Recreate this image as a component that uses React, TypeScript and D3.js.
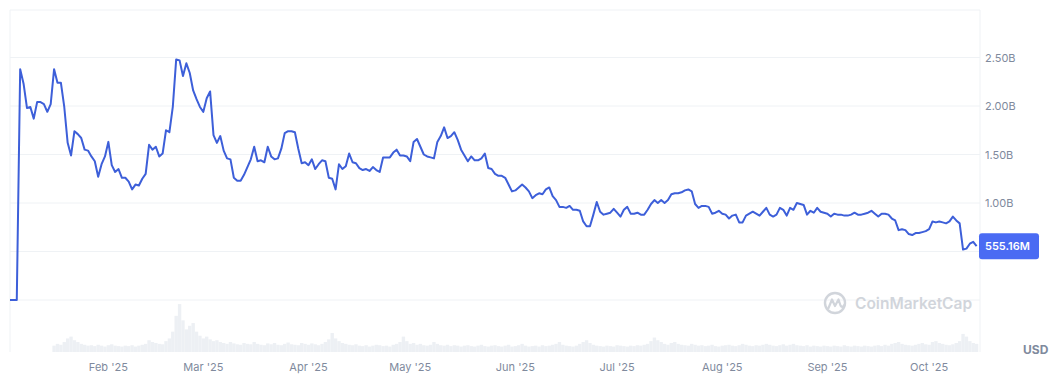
import React from "react";
import * as d3 from "d3";

// Market cap (USD billions), one value per day starting 2025-01-03
const startDate = "2025-01-03";
const endDate = "2025-10-16";
const marketCap: number[] = [
  0, 0, 0, 2.38, 2.23, 1.98, 1.99, 1.87, 2.04, 2.04,
  2.02, 1.94, 2.02, 2.38, 2.24, 2.24, 1.99, 1.62, 1.49, 1.74,
  1.71, 1.67, 1.55, 1.54, 1.48, 1.43, 1.27, 1.40, 1.48, 1.63,
  1.39, 1.32, 1.35, 1.26, 1.26, 1.22, 1.14, 1.19, 1.18, 1.25,
  1.30, 1.60, 1.55, 1.58, 1.48, 1.51, 1.75, 1.73, 1.99, 2.48,
  2.47, 2.31, 2.44, 2.34, 2.16, 2.07, 1.99, 1.94, 2.08, 2.15,
  1.70, 1.62, 1.69, 1.54, 1.46, 1.45, 1.26, 1.23, 1.23, 1.29,
  1.37, 1.45, 1.58, 1.43, 1.44, 1.42, 1.58, 1.48, 1.45, 1.46,
  1.56, 1.72, 1.74, 1.74, 1.73, 1.56, 1.41, 1.42, 1.39, 1.45,
  1.35, 1.40, 1.44, 1.43, 1.26, 1.25, 1.14, 1.40, 1.35, 1.38,
  1.51, 1.42, 1.41, 1.36, 1.34, 1.35, 1.33, 1.37, 1.34, 1.32,
  1.47, 1.47, 1.47, 1.52, 1.55, 1.49, 1.49, 1.48, 1.43, 1.63,
  1.66, 1.58, 1.50, 1.48, 1.47, 1.46, 1.63, 1.69, 1.78, 1.67,
  1.69, 1.73, 1.65, 1.55, 1.49, 1.43, 1.48, 1.44, 1.44, 1.46,
  1.51, 1.36, 1.35, 1.30, 1.28, 1.28, 1.26, 1.19, 1.12, 1.13,
  1.16, 1.19, 1.16, 1.12, 1.05, 1.08, 1.10, 1.09, 1.14, 1.16,
  1.07, 1.03, 0.96, 0.96, 0.95, 0.97, 0.93, 0.93, 0.92, 0.81,
  0.76, 0.76, 0.88, 1.01, 0.91, 0.88, 0.89, 0.90, 0.94, 0.90,
  0.86, 0.93, 0.96, 0.89, 0.89, 0.90, 0.88, 0.88, 0.93, 0.99,
  1.03, 1.00, 1.03, 1.00, 1.03, 1.09, 1.10, 1.10, 1.11, 1.13,
  1.14, 1.12, 0.99, 0.95, 0.97, 0.97, 0.96, 0.89, 0.90, 0.92,
  0.89, 0.88, 0.84, 0.87, 0.88, 0.80, 0.80, 0.87, 0.89, 0.91,
  0.89, 0.87, 0.91, 0.95, 0.88, 0.86, 0.88, 0.95, 0.93, 0.87,
  0.95, 0.93, 1.00, 0.99, 0.98, 0.88, 0.92, 0.90, 0.95, 0.91,
  0.90, 0.89, 0.86, 0.89, 0.88, 0.88, 0.87, 0.87, 0.88, 0.90,
  0.88, 0.88, 0.89, 0.90, 0.92, 0.89, 0.86, 0.89, 0.89, 0.88,
  0.84, 0.82, 0.72, 0.73, 0.72, 0.68, 0.67, 0.69, 0.69, 0.70,
  0.71, 0.73, 0.81, 0.80, 0.81, 0.80, 0.79, 0.81, 0.86, 0.82,
  0.79, 0.52, 0.53, 0.58, 0.60, 0.555,
];

// Daily volume (USD millions), starting 2025-01-16
const volumeStart = "2025-01-16";
const volume: number[] = [
  14, 18, 16, 22, 30, 34, 26, 22, 18, 16,
  14, 15, 13, 16, 14, 12, 15, 17, 14, 13,
  12, 14, 13, 15, 12, 14, 16, 18, 26, 22,
  20, 18, 17, 24, 30, 45, 80, 106, 70, 50,
  58, 64, 45, 36, 30, 34, 28, 24, 26, 22,
  20, 18, 22, 19, 17, 16, 20, 18, 17, 22,
  18, 16, 15, 19, 17, 20, 16, 15, 18, 21,
  17, 16, 15, 20, 18, 16, 19, 17, 15, 18,
  22, 28, 42, 30, 24, 20, 18, 16, 15, 17,
  14, 13, 15, 12, 14, 16, 15, 13, 14, 12,
  16, 18, 22, 34, 24, 18, 20, 16, 18, 15,
  14, 16, 22, 18, 15, 14, 16, 13, 15, 14,
  12, 14, 15, 13, 12, 14, 16, 13, 12, 14,
  15, 13, 12, 14, 16, 12, 13, 15, 18, 14,
  12, 13, 14, 12, 15, 13, 14, 16, 18, 22,
  16, 14, 13, 12, 14, 18, 22, 26, 20, 16,
  14, 13, 12, 14, 13, 12, 15, 14, 13, 12,
  14, 13, 15, 14, 16, 18, 24, 32, 26, 22,
  18, 16, 20, 22, 18, 16, 15, 14, 18, 16,
  14, 15, 13, 14, 16, 13, 12, 14, 15, 16,
  14, 13, 15, 18, 16, 14, 13, 15, 14, 16,
  18, 16, 14, 13, 15, 17, 14, 16, 18, 15,
  14, 13, 15, 12, 14, 13, 12, 14, 13, 12,
  14, 13, 12, 15, 13, 12, 14, 13, 12, 14,
  13, 12, 14, 15, 13, 16, 14, 18, 20, 22,
  18, 16, 15, 14, 16, 18, 20, 17, 16, 22,
  24, 20, 18, 16, 15, 17, 20, 24, 40, 34,
  24, 20, 18,
];

const yTicks = [1.0, 1.5, 2.0, 2.5];
const gridValues = [0, 0.5, 1.0, 1.5, 2.0, 2.5];
const monthTicks = [
  "2025-02-01", "2025-03-01", "2025-04-01", "2025-05-01", "2025-06-01",
  "2025-07-01", "2025-08-01", "2025-09-01", "2025-10-01",
];
const currentLabel = "555.16M";
const currency = "USD";
const watermark = "CoinMarketCap";

const W = 1059;
const H = 386;
const left = 10;
const right = 980;
const top = 10;
const mainBottom = 300;
const volBottom = 352;

const parse = d3.utcParse("%Y-%m-%d");
const DAY = 24 * 3600 * 1000;

export default function App() {
  const t0 = parse(startDate)!;
  const t1 = parse(endDate)!;
  const x = d3.scaleUtc().domain([t0, t1]).range([left, right]);
  const y = d3.scaleLinear().domain([0, 2.5]).range([mainBottom, 57.5]);
  const vy = d3.scaleLinear().domain([0, 115]).range([volBottom, 300]);

  const series = marketCap.map((v, i) => ({ date: new Date(t0.getTime() + i * DAY), v }));
  const vStart = parse(volumeStart)!;
  const vols = volume.map((v, i) => ({ date: new Date(vStart.getTime() + i * DAY), v }));

  const line = d3
    .line<{ date: Date; v: number }>()
    .x((d) => x(d.date))
    .y((d) => y(d.v));

  const fmt = (v: number) => v.toFixed(2) + "B";
  const dayW = x(new Date(t0.getTime() + DAY)) - x(t0);
  const monthFmt = d3.utcFormat("%b '%y");
  const last = series[series.length - 1];
  const lastY = y(last.v);
  const font = "Inter, 'Noto Sans', sans-serif";

  return (
    <svg
      width={W}
      height={H}
      style={{ position: "absolute", left: 0, top: 0, background: "#fff" }}
      fontFamily={font}
    >
      <defs>
        <clipPath id="plotClip">
          <rect x={left} y={top} width={right - left} height={volBottom - top} />
        </clipPath>
      </defs>
      {/* frame */}
      <line x1={left} x2={right} y1={top} y2={top} stroke="#eff2f5" />
      <line x1={left} x2={left} y1={top} y2={volBottom} stroke="#eff2f5" />
      <line x1={right} x2={right} y1={top} y2={volBottom} stroke="#eff2f5" />
      {gridValues.map((g) => (
        <line key={g} x1={left} x2={right} y1={y(g)} y2={y(g)} stroke="#eff2f5" />
      ))}
      {/* volume */}
      <g clipPath="url(#plotClip)">
        {vols.map((d, i) => (
          <rect
            key={i}
            x={x(d.date) - dayW / 2}
            y={vy(d.v)}
            width={dayW}
            height={volBottom - vy(d.v)}
            fill="#edf0f4"
          />
        ))}
      </g>
      {/* watermark */}
      <g opacity={0.9}>
        <circle cx={835} cy={303} r={10} fill="none" stroke="#cdd1d8" strokeWidth={2.4} />
        <path
          d="M828.5 308 L832 299.5 L835 306 L838.5 299.5 L840.5 305.5 Q842 308.5 844.5 305"
          fill="none"
          stroke="#cdd1d8"
          strokeWidth={2.2}
          strokeLinejoin="round"
          strokeLinecap="round"
        />
        <text x={855} y={308.5} fontSize={15.5} fontWeight={600} fill="#cdd1d8">
          {watermark}
        </text>
      </g>
      {/* price line */}
      <path
        d={line(series) || ""}
        fill="none"
        stroke="#3d5fd9"
        strokeWidth={2}
        strokeLinejoin="round"
        clipPath="url(#plotClip)"
      />
      {/* y tick labels */}
      {yTicks.map((t) => (
        <text key={t} x={985} y={y(t) + 4} fontSize={11} fill="#808a9d">
          {fmt(t)}
        </text>
      ))}
      {/* current value label */}
      <rect x={979} y={lastY - 13} width={60} height={26} rx={3} fill="#4a6bf3" />
      <text x={985} y={lastY + 4} fontSize={11} fontWeight={600} fill="#ffffff">
        {currentLabel}
      </text>
      {/* x labels */}
      {monthTicks.map((m) => {
        const d = parse(m)!;
        return (
          <text key={m} x={x(d)} y={371} fontSize={11} fill="#808a9d" textAnchor="middle">
            {monthFmt(d)}
          </text>
        );
      })}
      <text x={1023} y={354} fontSize={12} fontWeight={700} fill="#808a9d">
        {currency}
      </text>
    </svg>
  );
}
